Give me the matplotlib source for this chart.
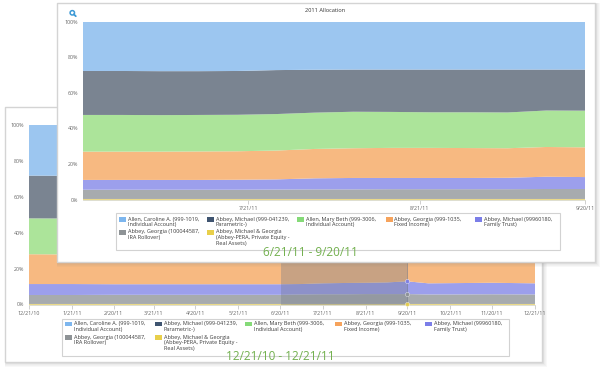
import pandas as pd
import matplotlib.pyplot as plt
from matplotlib.patches import Rectangle, Circle

plt.rcParams['font.family'] = ['Open Sans', 'DejaVu Sans']

W, H = 600., 370.

colors = ['#E9D98A', '#A7ABAE', '#9C9FEC', '#F7B981', '#ACE49A', '#7A8491', '#9CC6F0']
swatch_colors = ['#7DB6EE', '#3F5470', '#85DA78', '#F6A35C', '#7B7EE8', '#8E9396', '#E8CF4A']
legend_labels = ['Allen, Caroline A. (999-1019,\nIndividual Account)',
                 'Abbey, Michael (999-041239,\nParametric-)',
                 'Allen, Mary Beth (999-3006,\nIndividual Account)',
                 'Abbey, Georgia (999-1035,\nFixed Income)',
                 'Abbey, Michael (99960180,\nFamily Trust)',
                 'Abbey, Georgia (100044587,\nIRA Rollover)',
                 'Abbey, Michael & Georgia\n(Abbey-PERA, Private Equity -\nReal Assets)']
pct_ticks = [0, 20, 40, 60, 80, 100]

# front chart, 6/21/11 - 9/20/11
front_dates = pd.to_datetime(['2011-06-21', '2011-06-28', '2011-07-05', '2011-07-12', '2011-07-19',
                              '2011-07-26', '2011-08-02', '2011-08-09', '2011-08-16', '2011-08-23',
                              '2011-08-30', '2011-09-06', '2011-09-13', '2011-09-20'])
front_yellow = [.3, .3, .3, .3, .3, .3, .3, .3, .3, .3, .3, .3, .3, .3]
front_grey = [5.2, 5.2, 5.2, 5.2, 5.2, 5.3, 5.4, 5.4, 5.5, 5.5, 5.5, 5.5, 5.6, 5.6]
front_purple = [5.5, 5.5, 5.5, 5.5, 5.6, 5.7, 6.2, 6.4, 6.3, 6.3, 6.3, 6.4, 6.9, 6.7]
front_orange = [15.9, 15.9, 15.9, 16, 16, 16.2, 16.5, 16.7, 16.9, 16.9, 16.8, 16.6, 16.7, 16.7]
front_green = [20.6, 20.6, 20.5, 20.5, 20.5, 20.5, 20.4, 20.5, 20.2, 20, 20.1, 20.1, 20.5, 20.6]
front_dark = [24.7, 24.7, 24.7, 24.6, 24.6, 24.7, 24.1, 23.7, 23.8, 24, 24, 24.1, 23, 23.1]
front_blue = [27.8, 27.8, 27.9, 27.9, 27.8, 27.3, 27.1, 27, 27, 27, 27, 27, 27, 27]
front_ticks = pd.to_datetime(['2011-07-21', '2011-08-21', '2011-09-20'])
front_ticklabels = ['7/21/11', '8/21/11', '9/20/11']

# back chart, 12/21/10 - 12/21/11
back_dates = pd.to_datetime(['2010-12-21', '2011-01-21', '2011-02-20', '2011-03-21', '2011-04-20',
                             '2011-05-21', '2011-06-21', '2011-07-05', '2011-07-21', '2011-08-07',
                             '2011-08-21', '2011-09-05', '2011-09-20', '2011-10-05', '2011-10-21',
                             '2011-11-20', '2011-12-21'])
back_yellow = [.3, .3, .3, .3, .3, .3, .3, .3, .3, .3, .3, .3, .3, .3, .3, .3, .3]
back_grey = [5, 5, 5.1, 5.1, 5.1, 5.1, 5.1, 5.3, 5.4, 5.4, 5.5, 5.5, 5.5, 5.3, 5.3, 5.4, 5.3]
back_purple = [6.1, 6.1, 5.9, 5.9, 5.9, 5.9, 5.9, 5.8, 6.1, 6.3, 6.3, 6.5, 7.1, 6.2, 6.3, 6.4, 6.2]
back_orange = [16.6, 16.5, 16.4, 16.3, 16.2, 16, 15.8, 15.8, 16, 16.5, 16.8, 16.7, 16.5, 16.6, 16.7, 16.6, 16.8]
back_green = [20, 20, 20, 20, 20, 20, 20, 20, 20, 20, 20, 20, 20, 20, 20, 20, 20]
back_dark = [23.8, 23.8, 23.8, 23.8, 23.8, 23.8, 23.8, 23.8, 23.8, 23.8, 23.8, 23.8, 23.8, 23.8, 23.8, 23.8, 23.8]
back_blue = [28.2, 28.3, 28.5, 28.6, 28.7, 28.9, 29.1, 29, 28.4, 27.7, 27.3, 27.2, 26.8, 27.8, 27.6, 27.5, 27.6]
back_ticks = pd.to_datetime(['2010-12-21', '2011-01-21', '2011-02-20', '2011-03-21', '2011-04-20', '2011-05-21',
                             '2011-06-20', '2011-07-21', '2011-08-21', '2011-09-20', '2011-10-21', '2011-11-20',
                             '2011-12-21'])
back_ticklabels = ['12/21/10', '1/21/11', '2/20/11', '3/21/11', '4/20/11', '5/21/11', '6/20/11',
                   '7/21/11', '8/21/11', '9/20/11', '10/21/11', '11/20/11', '12/21/11']
zoom_start = pd.Timestamp('2011-06-21')
zoom_end = pd.Timestamp('2011-09-20')

fig = plt.figure(figsize=(6, 3.7), dpi=100, facecolor='white')


def layer(z):
    # full figure overlay in pixel coords, y going down
    ax = fig.add_axes([0, 0, 1, 1], zorder=z)
    ax.set_xlim(0, W)
    ax.set_ylim(H, 0)
    ax.axis('off')
    ax.patch.set_alpha(0)
    return ax


def panel(ax, x0, y0, x1, y1):
    for i in range(5, 0, -1):
        ax.add_patch(Rectangle((x0 + 1 - i * .3, y0 + 1 - i * .3), x1 - x0 + i, y1 - y0 + i,
                               fc='#808080', ec='none', alpha=.05))
    ax.add_patch(Rectangle((x0, y0), x1 - x0, y1 - y0, fc='white', ec='#D4D4D4', lw=1))


def legend(ax, x0, y0, x1, y1, col_x, row_y):
    ax.add_patch(Rectangle((x0, y0), x1 - x0, y1 - y0, fc='white', ec='#D2D2D2', lw=.8))
    slots = [(c, row_y[0]) for c in col_x] + [(c, row_y[1]) for c in col_x[:2]]
    for (sx, sy), lab, col in zip(slots, legend_labels, swatch_colors):
        ax.add_patch(Rectangle((sx, sy - 2), 6.5, 4.5, fc=col, ec='none'))
        ax.text(sx + 8.5, sy - 2.5, lab, fontsize=3.95, color='#3C3C3C', va='top', ha='left', linespacing=1.22)


def chart(rect, z, dates, series, ticks, ticklabels):
    x0, y0, x1, y1 = rect
    ax = fig.add_axes([x0 / W, 1 - y1 / H, (x1 - x0) / W, (y1 - y0) / H], zorder=z)
    ax.patch.set_alpha(0)
    ax.stackplot(dates, series, colors=colors, lw=0)
    ax.set_xlim(dates[0], dates[-1])
    ax.set_ylim(0, 100)
    ax.set_xticks(ticks)
    ax.set_xticklabels(ticklabels, fontsize=3.9, color='#666666')
    ax.set_yticks(pct_ticks)
    ax.set_yticklabels(['%d%%' % p for p in pct_ticks], fontsize=3.9, color='#666666')
    ax.tick_params(axis='x', length=3, width=.6, color='#C8C8C8', pad=1.5)
    ax.tick_params(axis='y', length=0, pad=3.6)
    for s in ax.spines.values():
        s.set_visible(False)
    ax.spines['bottom'].set_visible(True)
    ax.spines['bottom'].set_color('#D8D8C8')
    ax.spines['bottom'].set_linewidth(.6)
    return ax


# back panel
bg = layer(0)
panel(bg, 5, 107, 542, 362)
legend(bg, 62, 318.5, 509, 355.5, [65, 155, 245, 335, 425], [323.5, 337])
bg.text(280.5, 356, '12/21/10 - 12/21/11', fontsize=8.5, color='#72B04E', ha='center', va='center', zorder=5)

back_series = [back_yellow, back_grey, back_purple, back_orange, back_green, back_dark, back_blue]
ax_back = chart((29, 125, 535, 304.5), 1, back_dates, back_series, back_ticks, back_ticklabels)
ax_back.axvspan(zoom_start, zoom_end, color='#717889', alpha=.35, lw=0, zorder=3)
ax_back.axvline(zoom_end, color='#717889', lw=.6, alpha=.7, zorder=3)
i = list(back_dates).index(zoom_end)
for n, col in [(1, swatch_colors[6]), (2, swatch_colors[5]), (3, swatch_colors[4])]:
    ax_back.scatter([zoom_end], [sum(s[i] for s in back_series[:n])], s=9, fc=col, ec='white', lw=.3,
                    alpha=.9, zorder=4, clip_on=False)

# front panel
fg = layer(2)
panel(fg, 57, 3, 595, 262)
fg.text(325.5, 11, '2011 Allocation', fontsize=4.1, color='#333333', ha='center', va='center')
legend(fg, 116, 213, 560, 250, [119, 207, 297, 386, 475], [219, 232])
fg.text(310.5, 252.5, '6/21/11 - 9/20/11', fontsize=8.5, color='#72B04E', ha='center', va='center', zorder=5)
# magnifier icon
fg.add_patch(Circle((72.3, 12.8), 2.2, fc='none', ec='#3D9AD6', lw=1.1))
fg.plot([73.8, 75.8], [14.3, 16.2], color='#3D9AD6', lw=1.3, solid_capstyle='round')

front_series = [front_yellow, front_grey, front_purple, front_orange, front_green, front_dark, front_blue]
ax_front = chart((83, 21.5, 585, 199.5), 3, front_dates, front_series, front_ticks, front_ticklabels)

plt.savefig('out.png', dpi=100)
